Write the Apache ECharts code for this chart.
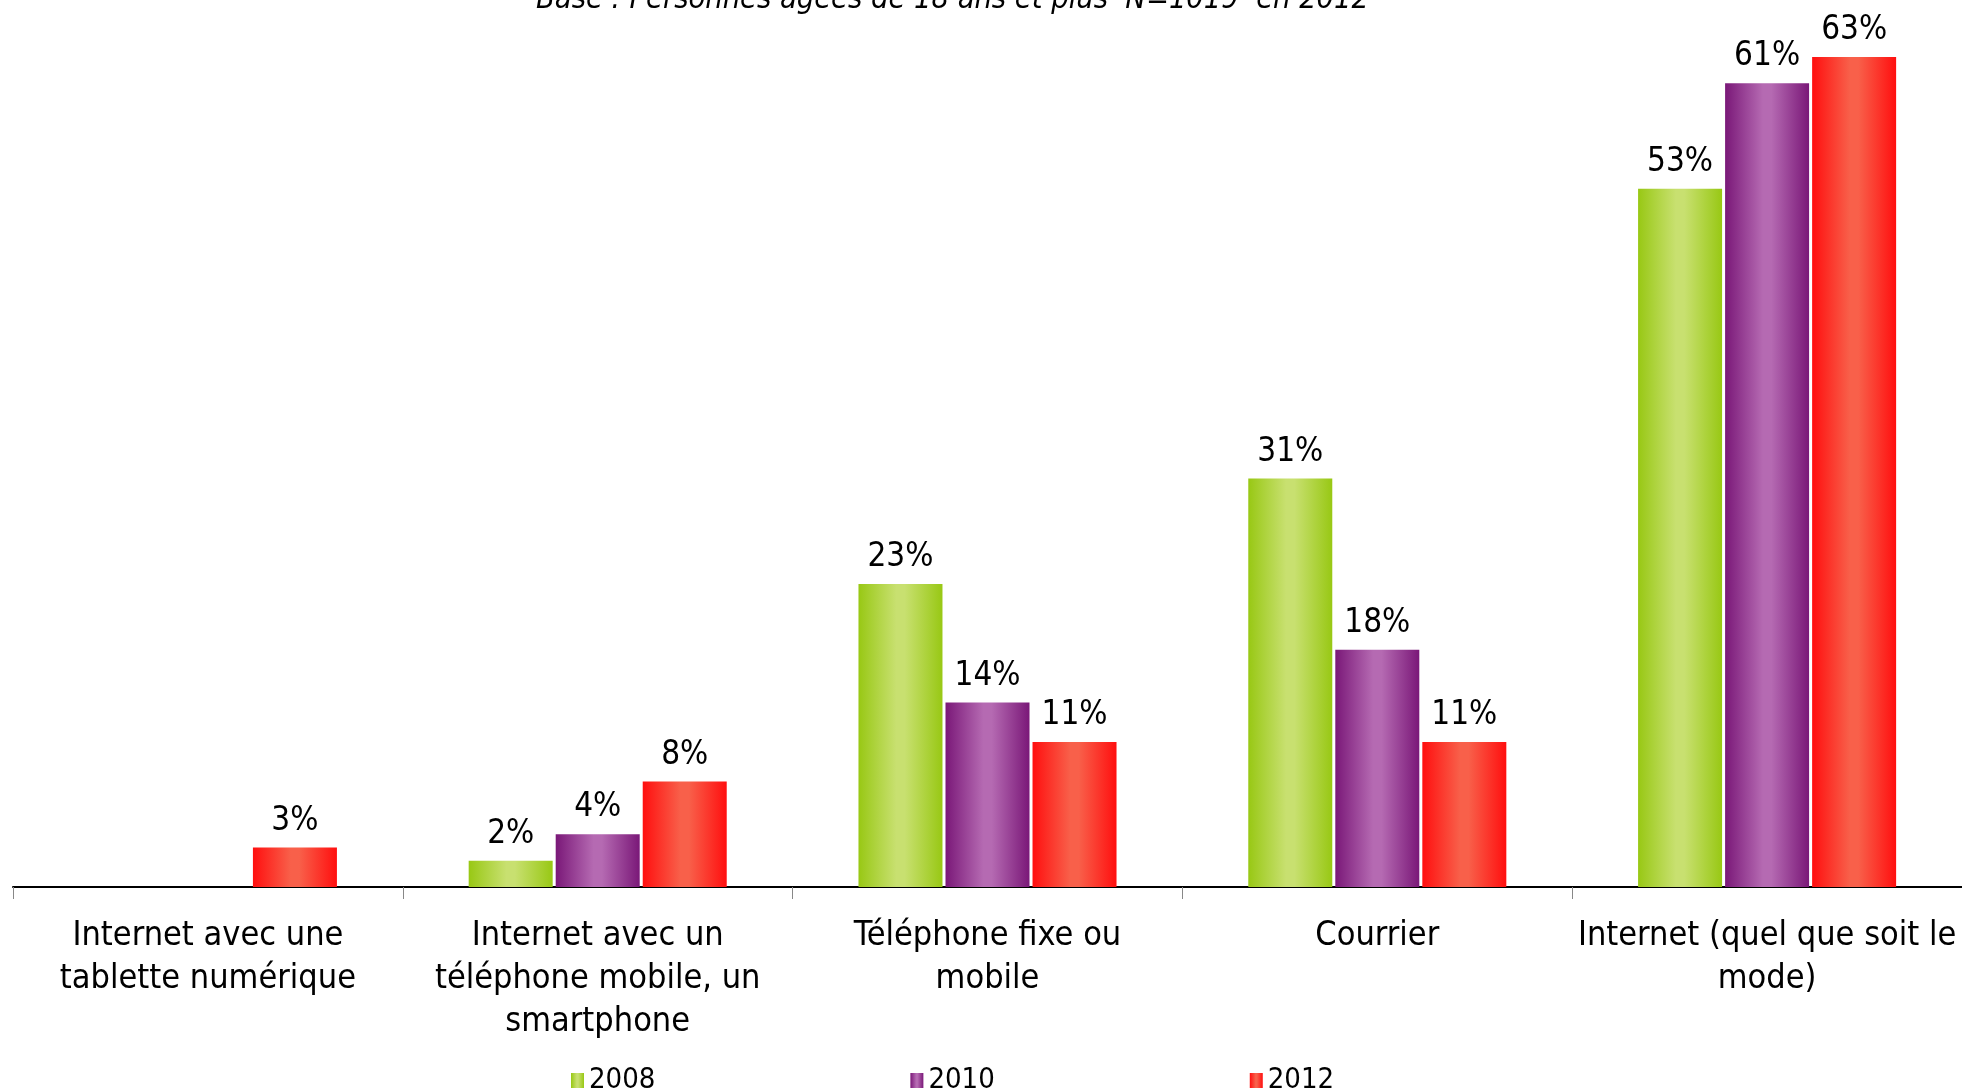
<!DOCTYPE html>
<html>
<head>
<meta charset="utf-8">
<script src="https://cdn.jsdelivr.net/npm/echarts@6/dist/echarts.min.js"></script>
<style>
  html, body { margin: 0; padding: 0; background: #fff; }
  #chart { width: 1962px; height: 1089px; }
</style>
</head>
<body>
<div id="chart"></div>
<script>
const categories = [
  'Internet avec une\ntablette numérique',
  'Internet avec un\ntéléphone mobile, un\nsmartphone',
  'Téléphone fixe ou\nmobile',
  'Courrier',
  'Internet (quel que soit le\nmode)'
];
const years = ['2008', '2010', '2012'];
const values2008 = [null, 2, 23, 31, 53];
const values2010 = [null, 4, 14, 18, 61];
const values2012 = [3, 8, 11, 11, 63];

const font = '"Liberation Sans Narrow", "DejaVu Sans Condensed", "Liberation Sans", sans-serif';

// dégradé horizontal : bords foncés, centre clair
function grad(edge, mid) {
  return new echarts.graphic.LinearGradient(0, 0, 1, 0, [
    { offset: 0, color: edge },
    { offset: 0.45, color: mid },
    { offset: 0.55, color: mid },
    { offset: 1, color: edge }
  ]);
}

const colors = [
  grad('#98c814', '#c8e070'),
  grad('#7a1878', '#b56ab2'),
  grad('#ff0f0f', '#f8604a')
];

function makeSeries(name, data, color) {
  return {
    name: name,
    type: 'bar',
    data: data,
    barWidth: 84,
    barGap: '3.6%',
    itemStyle: { color: color },
    label: {
      show: true,
      position: 'top',
      distance: 10,
      formatter: '{c}%',
      color: '#000',
      fontFamily: font,
      fontSize: 33
    }
  };
}

const chart = echarts.init(document.getElementById('chart'));
chart.setOption({
  animation: false,
  title: {
    text: 'Base : Personnes âgées de 18 ans et plus  N=1019  en 2012',
    left: 531,
    top: -20,
    textStyle: {
      fontFamily: font,
      fontStyle: 'italic',
      fontWeight: 'normal',
      fontSize: 30.5,
      color: '#000'
    }
  },
  legend: {
    data: years,
    left: 566,
    top: 1061,
    icon: 'rect',
    itemWidth: 13,
    itemHeight: 15,
    itemGap: 255,
    textStyle: { fontFamily: font, fontSize: 29, color: '#000' }
  },
  grid: { left: 13, right: 0, top: 57, bottom: 202, outerBoundsMode: 'none', containLabel: false },
  xAxis: {
    type: 'category',
    data: categories,
    axisLine: { lineStyle: { color: '#000', width: 2 } },
    axisTick: { show: true, length: 12, lineStyle: { color: '#888' } },
    axisLabel: {
      interval: 0,
      margin: 28,
      color: '#000',
      fontFamily: font,
      fontSize: 34,
      lineHeight: 43
    }
  },
  yAxis: {
    type: 'value',
    min: 0,
    max: 63,
    show: false
  },
  series: [
    makeSeries(years[0], values2008, colors[0]),
    makeSeries(years[1], values2010, colors[1]),
    makeSeries(years[2], values2012, colors[2])
  ]
});
</script>
</body>
</html>
